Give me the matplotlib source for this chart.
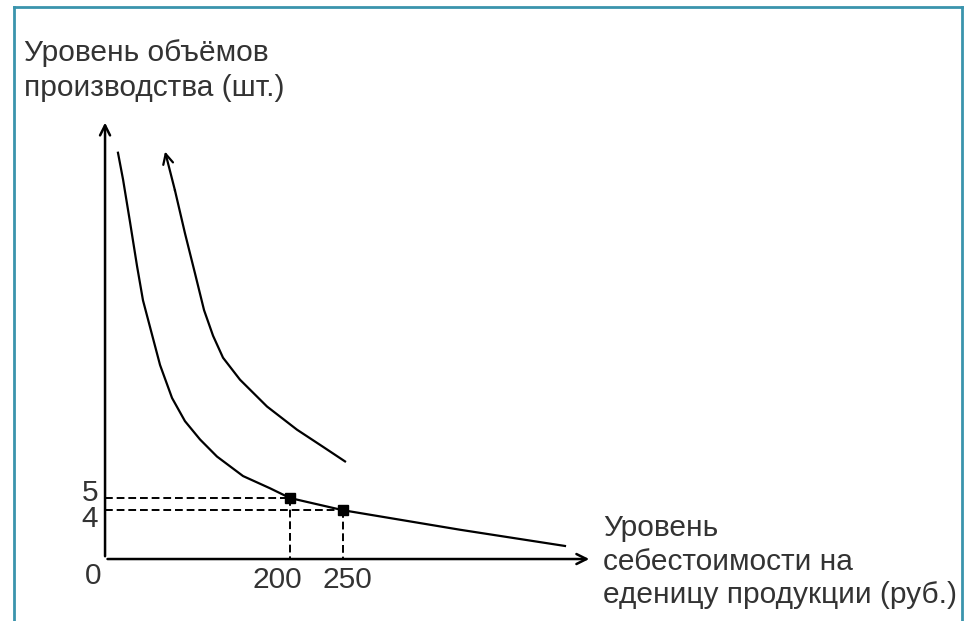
import matplotlib
matplotlib.use("Agg")
import matplotlib.pyplot as plt

# schematic data: cost per unit (rub.) vs production volume (pcs.)
curve1_x = [37.7, 42.5, 49.1, 55.7, 61.3, 69.8, 77.4, 88.7, 100.9, 115.1, 131.1, 155.7,
            181.1, 200, 250, 360.4, 459.4]
curve1_y = [33.3, 31.1, 27.6, 24.0, 21.2, 18.4, 15.9, 13.2, 11.3, 9.8, 8.4, 6.8,
            5.8, 5, 4, 2.4, 1.07]
curve2_x = [82.1, 91.5, 100.9, 110.4, 118.9, 127.4, 136.8, 152.8, 178.3, 206.6, 231.1, 251.9]
curve2_y = [33.4, 30.2, 26.7, 23.4, 20.4, 18.3, 16.5, 14.7, 12.5, 10.6, 9.2, 8.0]
points_x = [200, 250]
points_y = [5, 4]
xtick_labels = ["200", "250"]
ytick_labels = ["5", "4"]
ylabel = "Уровень объёмов\nпроизводства (шт.)"
xlabel = "Уровень\nсебестоимости на\nеденицу продукции (руб.)"

W, H = 972, 621
X0, XEND = 25.5, 484.9   # axis origin (labelled 0) and x-arrow end
YTOP = 36.0

fig = plt.figure(figsize=(W / 100, H / 100), dpi=100)
ax = fig.add_axes([0, 0, 1, 1])
ax.set_xlim(-73.6, 843.4)
ax.set_ylim(-5.08, 45.82)
ax.axis("off")

def px(x, y):
    return x / W, 1 - y / H

txt = "#333333"
fs = 21.5
font = ["Liberation Sans", "DejaVu Sans"]

# axes with arrows
ax.annotate("", xy=(X0, YTOP), xytext=(X0, 0),
            arrowprops=dict(arrowstyle="->", lw=1.8, color="black", mutation_scale=18))
ax.annotate("", xy=(XEND, 0), xytext=(X0 - 0.3, 0),
            arrowprops=dict(arrowstyle="->", lw=1.8, color="black", mutation_scale=18))

# curves
ax.plot(curve1_x, curve1_y, color="black", lw=1.6)
ax.plot(curve2_x[1:], curve2_y[1:], color="black", lw=1.6)
ax.annotate("", xy=(curve2_x[0], curve2_y[0]), xytext=(curve2_x[1], curve2_y[1]),
            arrowprops=dict(arrowstyle="->", lw=1.6, color="black", mutation_scale=18,
                            shrinkA=0, shrinkB=0))

# dashed guides
for xv, yv in zip(points_x, points_y):
    ax.plot([X0, xv], [yv, yv], color="black", lw=1.4, ls=(0, (4, 2)))
    ax.plot([xv, xv], [yv, 0], color="black", lw=1.4, ls=(0, (4, 2)))
ax.plot(points_x, points_y, "s", color="black", ms=7.5)

# tick labels
for xv, lab, dx in zip(points_x, xtick_labels, [-13, 4]):
    ax.annotate(lab, xy=(xv, 0), xytext=(dx, -21),
                textcoords="offset pixels", ha="center", va="center",
                fontsize=fs, color=txt, family=font)
for yv, lab, dy in zip(points_y, ytick_labels, [5, -9]):
    ax.annotate(lab, xy=(X0, yv), xytext=(-15, dy),
                textcoords="offset pixels", ha="center", va="center",
                fontsize=fs, color=txt, family=font)
ax.annotate("0", xy=(X0, 0), xytext=(-12, -17), textcoords="offset pixels",
            ha="center", va="center", fontsize=fs, color=txt, family=font)

# axis titles (baseline of the last line)
fig.text(*px(24, 96), ylabel, ha="left", va="baseline", fontsize=fs, color=txt,
         family=font, linespacing=1.3)
fig.text(*px(603, 603), xlabel, ha="left", va="baseline", fontsize=fs, color=txt,
         family=font, linespacing=1.25)

# frame
frame = "#3a94ad"
fig.add_artist(plt.Line2D([14 / W, 14 / W], [0, 1 - 7 / H], color=frame, lw=2))
fig.add_artist(plt.Line2D([14 / W, 962 / W], [1 - 7 / H, 1 - 7 / H], color=frame, lw=2))
fig.add_artist(plt.Line2D([962 / W, 962 / W], [0, 1 - 7 / H], color=frame, lw=2))

fig.savefig("out.png", dpi=100)
